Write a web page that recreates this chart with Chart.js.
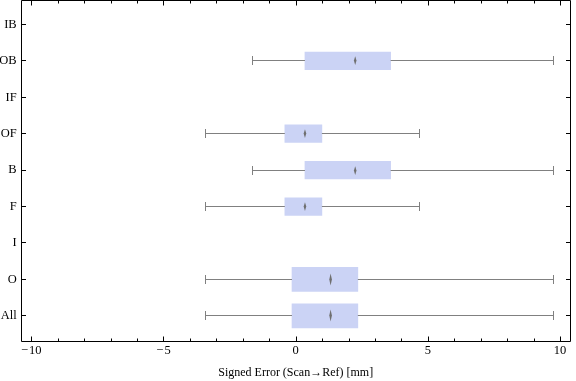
<!DOCTYPE html>
<html>
<head>
<meta charset="utf-8">
<script src="https://cdn.jsdelivr.net/npm/chart.js@4/dist/chart.umd.min.js"></script>
<style>
html,body{margin:0;padding:0;background:#fff;}
#wrap{width:576px;height:381px;}
</style>
</head>
<body>
<div id="wrap"><canvas id="c" width="576" height="381"></canvas></div>
<script>
// ---- data ----
const categories = ['IB', 'OB', 'IF', 'OF', 'B', 'F', 'I', 'O', 'All'];
const whiskerMin = [null, -1.65, null, -3.42, -1.65, -3.42, null, -3.42, -3.42];
const quartile1  = [null,  0.35, null, -0.41,  0.35, -0.41, null, -0.14, -0.14];
const medians    = [null,  2.25, null,  0.35,  2.25,  0.35, null,  1.32,  1.32];
const quartile3  = [null,  3.59, null,  0.99,  3.59,  0.99, null,  2.35,  2.35];
const whiskerMax = [null,  9.74, null,  4.67,  9.74,  4.67, null,  9.74,  9.74];
const xTickValues = [-10, -5, 0, 5, 10];
const xMinorTicks = [-10,-9,-8,-7,-6,-5,-4,-3,-2,-1,0,1,2,3,4,5,6,7,8,9,10];
const xTitle = 'Signed Error (Scan\u2192Ref) [mm]';

// ---- style ----
const BOX_COLOR = '#CBD3F5';
const WHISKER_COLOR = '#808080';
const MEDIAN_COLOR = '#6f6f6f';
const SERIF = '"Liberation Serif", "Times New Roman", serif';
const FONT = {family: SERIF, size: 12};
const TICK_FONT = {family: SERIF, size: 12.5};
const wideRows = ['O', 'All'];
const WIDE = 24, NARROW = 17.5;

function boxData(filterFn) {
  return categories.map((c, i) => (filterFn(c) && quartile1[i] !== null) ? {x: [quartile1[i], quartile3[i]], y: i} : null)
    .filter(d => d !== null);
}

const overlay = {
  id: 'overlay',
  afterDatasetsDraw(chart) {
    const ctx = chart.ctx, xs = chart.scales.x, ys = chart.scales.y;
    ctx.save();
    categories.forEach((c, i) => {
      if (quartile1[i] === null) return;
      const py = Math.floor(ys.getPixelForValue(i)) + 0.5;
      const h = wideRows.includes(c) ? WIDE : NARROW;
      const xmin = Math.round(xs.getPixelForValue(whiskerMin[i])) + 0.5;
      const xq1 = xs.getPixelForValue(quartile1[i]);
      const xq3 = xs.getPixelForValue(quartile3[i]);
      const xmax = Math.round(xs.getPixelForValue(whiskerMax[i])) + 0.5;
      ctx.strokeStyle = WHISKER_COLOR;
      ctx.lineWidth = 1;
      ctx.beginPath();
      ctx.moveTo(xmin, py); ctx.lineTo(xq1, py);
      ctx.moveTo(xq3, py); ctx.lineTo(xmax, py);
      ctx.moveTo(xmin, py - 4.5); ctx.lineTo(xmin, py + 4.5);
      ctx.moveTo(xmax, py - 4.5); ctx.lineTo(xmax, py + 4.5);
      ctx.stroke();
      const mx = xs.getPixelForValue(medians[i]);
      const mh = h * 0.25;
      ctx.fillStyle = MEDIAN_COLOR;
      ctx.beginPath();
      ctx.moveTo(mx, py - mh);
      ctx.lineTo(mx + 1.3, py);
      ctx.lineTo(mx, py + mh);
      ctx.lineTo(mx - 1.3, py);
      ctx.closePath();
      ctx.fill();
    });
    ctx.restore();
  },
  afterDraw(chart) {
    const ctx = chart.ctx, xs = chart.scales.x, ys = chart.scales.y;
    const a = chart.chartArea;
    const L = Math.round(a.left) + 0.5, R = Math.round(a.right) - 0.5;
    const T = Math.round(a.top) + 0.5, B = Math.round(a.bottom) + 0.5;
    ctx.save();
    ctx.strokeStyle = '#000';
    ctx.lineWidth = 1;
    ctx.beginPath();
    ctx.rect(L, T, R - L, B - T);
    xMinorTicks.forEach(v => {
      const px = Math.round(xs.getPixelForValue(v)) + 0.5;
      const len = xTickValues.includes(v) ? 5 : 3;
      ctx.moveTo(px, B); ctx.lineTo(px, B - len);
      ctx.moveTo(px, T); ctx.lineTo(px, T + len);
    });
    categories.forEach((c, i) => {
      const py = Math.floor(ys.getPixelForValue(i)) + 0.5;
      ctx.moveTo(L, py); ctx.lineTo(L + 4.5, py);
      ctx.moveTo(R, py); ctx.lineTo(R - 4.5, py);
    });
    ctx.stroke();
    ctx.restore();
  }
};

new Chart(document.getElementById('c'), {
  type: 'bar',
  data: {
    datasets: [
      {data: boxData(c => !wideRows.includes(c)), backgroundColor: BOX_COLOR, barThickness: NARROW, grouped: false, borderWidth: 0},
      {data: boxData(c => wideRows.includes(c)), backgroundColor: BOX_COLOR, barThickness: WIDE, grouped: false, borderWidth: 0}
    ]
  },
  options: {
    indexAxis: 'y',
    responsive: false,
    animation: false,
    devicePixelRatio: 1,
    layout: {padding: {left: 0, right: 5.3, top: 0, bottom: 0}},
    plugins: {legend: {display: false}, tooltip: {enabled: false}},
    scales: {
      x: {
        type: 'linear', position: 'bottom', min: -10.4, max: 10.4, offset: false,
        grid: {display: false, drawTicks: false}, border: {display: false},
        afterBuildTicks: s => { s.ticks = xTickValues.map(v => ({value: v})); },
        afterFit: s => { s.height = 40; s.paddingLeft = 0; s.paddingRight = 0; },
        ticks: {
          font: TICK_FONT, color: '#000', padding: 2, autoSkip: false, maxRotation: 0,
          callback: v => (v < 0 ? '\u2212\u200A' + Math.abs(v) : String(v))
        },
        title: {display: true, text: xTitle, font: FONT, color: '#000', padding: {top: 0, bottom: 1}}
      },
      y: {
        type: 'linear', reverse: true, min: -0.67, max: 8.69, offset: false,
        grid: {display: false, drawTicks: false}, border: {display: false},
        afterBuildTicks: s => { s.ticks = categories.map((c, i) => ({value: i})); },
        afterFit: s => { s.width = 20.7; s.paddingTop = 0; s.paddingBottom = 0; },
        ticks: {font: TICK_FONT, color: '#000', padding: 4, autoSkip: false, callback: v => categories[v]}
      }
    }
  },
  plugins: [overlay]
});
</script>
</body>
</html>
